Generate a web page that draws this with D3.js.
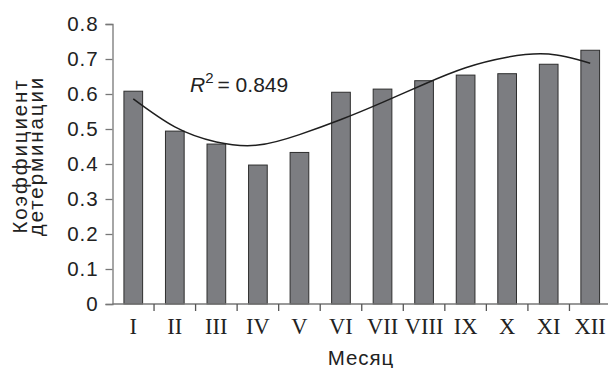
<!DOCTYPE html>
<html>
<head>
<meta charset="utf-8">
<script src="https://cdn.jsdelivr.net/npm/d3@7"></script>
<style>
  body { margin: 0; background: #fff; }
  svg { display: block; }
  .tick text { fill: #222; }
</style>
</head>
<body>
<div id="chart"></div>
<script>
// month labels (roman numerals)
let months = ["I", "II", "III", "IV", "V", "VI", "VII", "VIII", "IX", "X", "XI", "XII"];
// coefficient of determination per month (bars)
let r2Values = [0.608, 0.494, 0.457, 0.397, 0.433, 0.605, 0.614, 0.638, 0.654, 0.658, 0.685, 0.725];
// polynomial trend line at each month
let trendValues = [0.586, 0.506, 0.463, 0.454, 0.484, 0.527, 0.576, 0.628, 0.675, 0.705, 0.714, 0.688];
let yTicks = [0, 0.1, 0.2, 0.3, 0.4, 0.5, 0.6, 0.7, 0.8];
let r2Label = "0.849";

let width = 608, height = 368;
let margin = {top: 24, right: -3, bottom: 64, left: 112.5};

let svg = d3.select("#chart").append("svg")
    .attr("width", width)
    .attr("height", height);

let x = d3.scaleBand()
    .domain(months)
    .range([margin.left, width - margin.right])
    .paddingInner(0.55)
    .paddingOuter(0.275);

// band used for axis ticks between categories
let xCell = d3.scaleBand()
    .domain(months)
    .range([margin.left, width - margin.right]);

let y = d3.scaleLinear()
    .domain([0, 0.8])
    .range([height - margin.bottom, margin.top]);

let sans = "'Liberation Sans', Arial, sans-serif";

// bars
svg.selectAll(".bar")
    .data(months)
    .enter()
    .append("rect")
    .attr("class", "bar")
    .attr("x", d => x(d))
    .attr("width", x.bandwidth())
    .attr("y", (d, i) => y(r2Values[i]))
    .attr("height", (d, i) => y(0) - y(r2Values[i]))
    .style("fill", "#7c7d81")
    .style("stroke", "#2e2e2e")
    .style("stroke-width", 1);

// y axis
let yAxis = svg.append("g")
    .attr("transform", "translate(" + margin.left + ",0)")
    .call(d3.axisLeft(y).tickValues(yTicks).tickFormat(d => d === 0 ? "0" : d3.format(".1f")(d)).tickSizeOuter(0).tickSize(7).tickPadding(7));
yAxis.select(".domain").style("stroke", "#777").style("stroke-width", 1.3);
yAxis.selectAll(".tick line").style("stroke", "#777").style("stroke-width", 1.3);
yAxis.selectAll(".tick text")
    .style("font-family", sans)
    .style("font-size", "20.5px")
    .style("letter-spacing", "0.9px");

// x axis (line + ticks between months)
let xAxis = svg.append("g")
    .attr("transform", "translate(0," + y(0) + ")");
xAxis.append("line")
    .attr("x1", margin.left)
    .attr("x2", width)
    .style("stroke", "#777")
    .style("stroke-width", 1.3);
xAxis.selectAll(".xtick")
    .data(months.slice(1))
    .enter()
    .append("line")
    .attr("x1", d => xCell(d))
    .attr("x2", d => xCell(d))
    .attr("y1", 0)
    .attr("y2", 7)
    .style("stroke", "#555")
    .style("stroke-width", 1.3);
xAxis.selectAll(".xlabel")
    .data(months)
    .enter()
    .append("text")
    .attr("x", d => xCell(d) + xCell.bandwidth() / 2)
    .attr("y", 29.5)
    .attr("text-anchor", "middle")
    .style("font-family", "'Liberation Serif', 'Times New Roman', serif")
    .style("font-size", "22.5px")
    .style("fill", "#222")
    .text(d => d);

// trend line
let line = d3.line()
    .x((d, i) => xCell(months[i]) + xCell.bandwidth() / 2)
    .y(d => y(d))
    .curve(d3.curveNatural);
svg.append("path")
    .datum(trendValues)
    .attr("d", line)
    .style("fill", "none")
    .style("stroke", "#1e1e1e")
    .style("stroke-width", 1.5);

// R^2 annotation
let rText = svg.append("text")
    .attr("x", 190)
    .attr("y", 92)
    .style("font-family", sans)
    .style("font-size", "21px")
    .style("fill", "#222");
rText.append("tspan").style("font-style", "italic").text("R");
rText.append("tspan").attr("dy", -9).style("font-size", "15px").text("2");
rText.append("tspan").attr("dy", 9).attr("dx", 4).text("= " + r2Label);

// axis titles
svg.append("text")
    .attr("x", 361)
    .attr("y", 365)
    .attr("text-anchor", "middle")
    .style("font-family", sans)
    .style("font-size", "20.5px")
    .style("letter-spacing", "0.9px")
    .style("fill", "#222")
    .text("Месяц");

let yTitle = svg.append("text")
    .attr("transform", "translate(27,156) rotate(-90)")
    .attr("text-anchor", "middle")
    .style("font-family", sans)
    .style("font-size", "20.5px")
    .style("letter-spacing", "1.9px")
    .style("fill", "#222");
yTitle.append("tspan").attr("x", 0).attr("y", 0).text("Коэффициент");
yTitle.append("tspan").attr("x", 0).attr("y", 16).text("детерминации");
</script>
</body>
</html>
